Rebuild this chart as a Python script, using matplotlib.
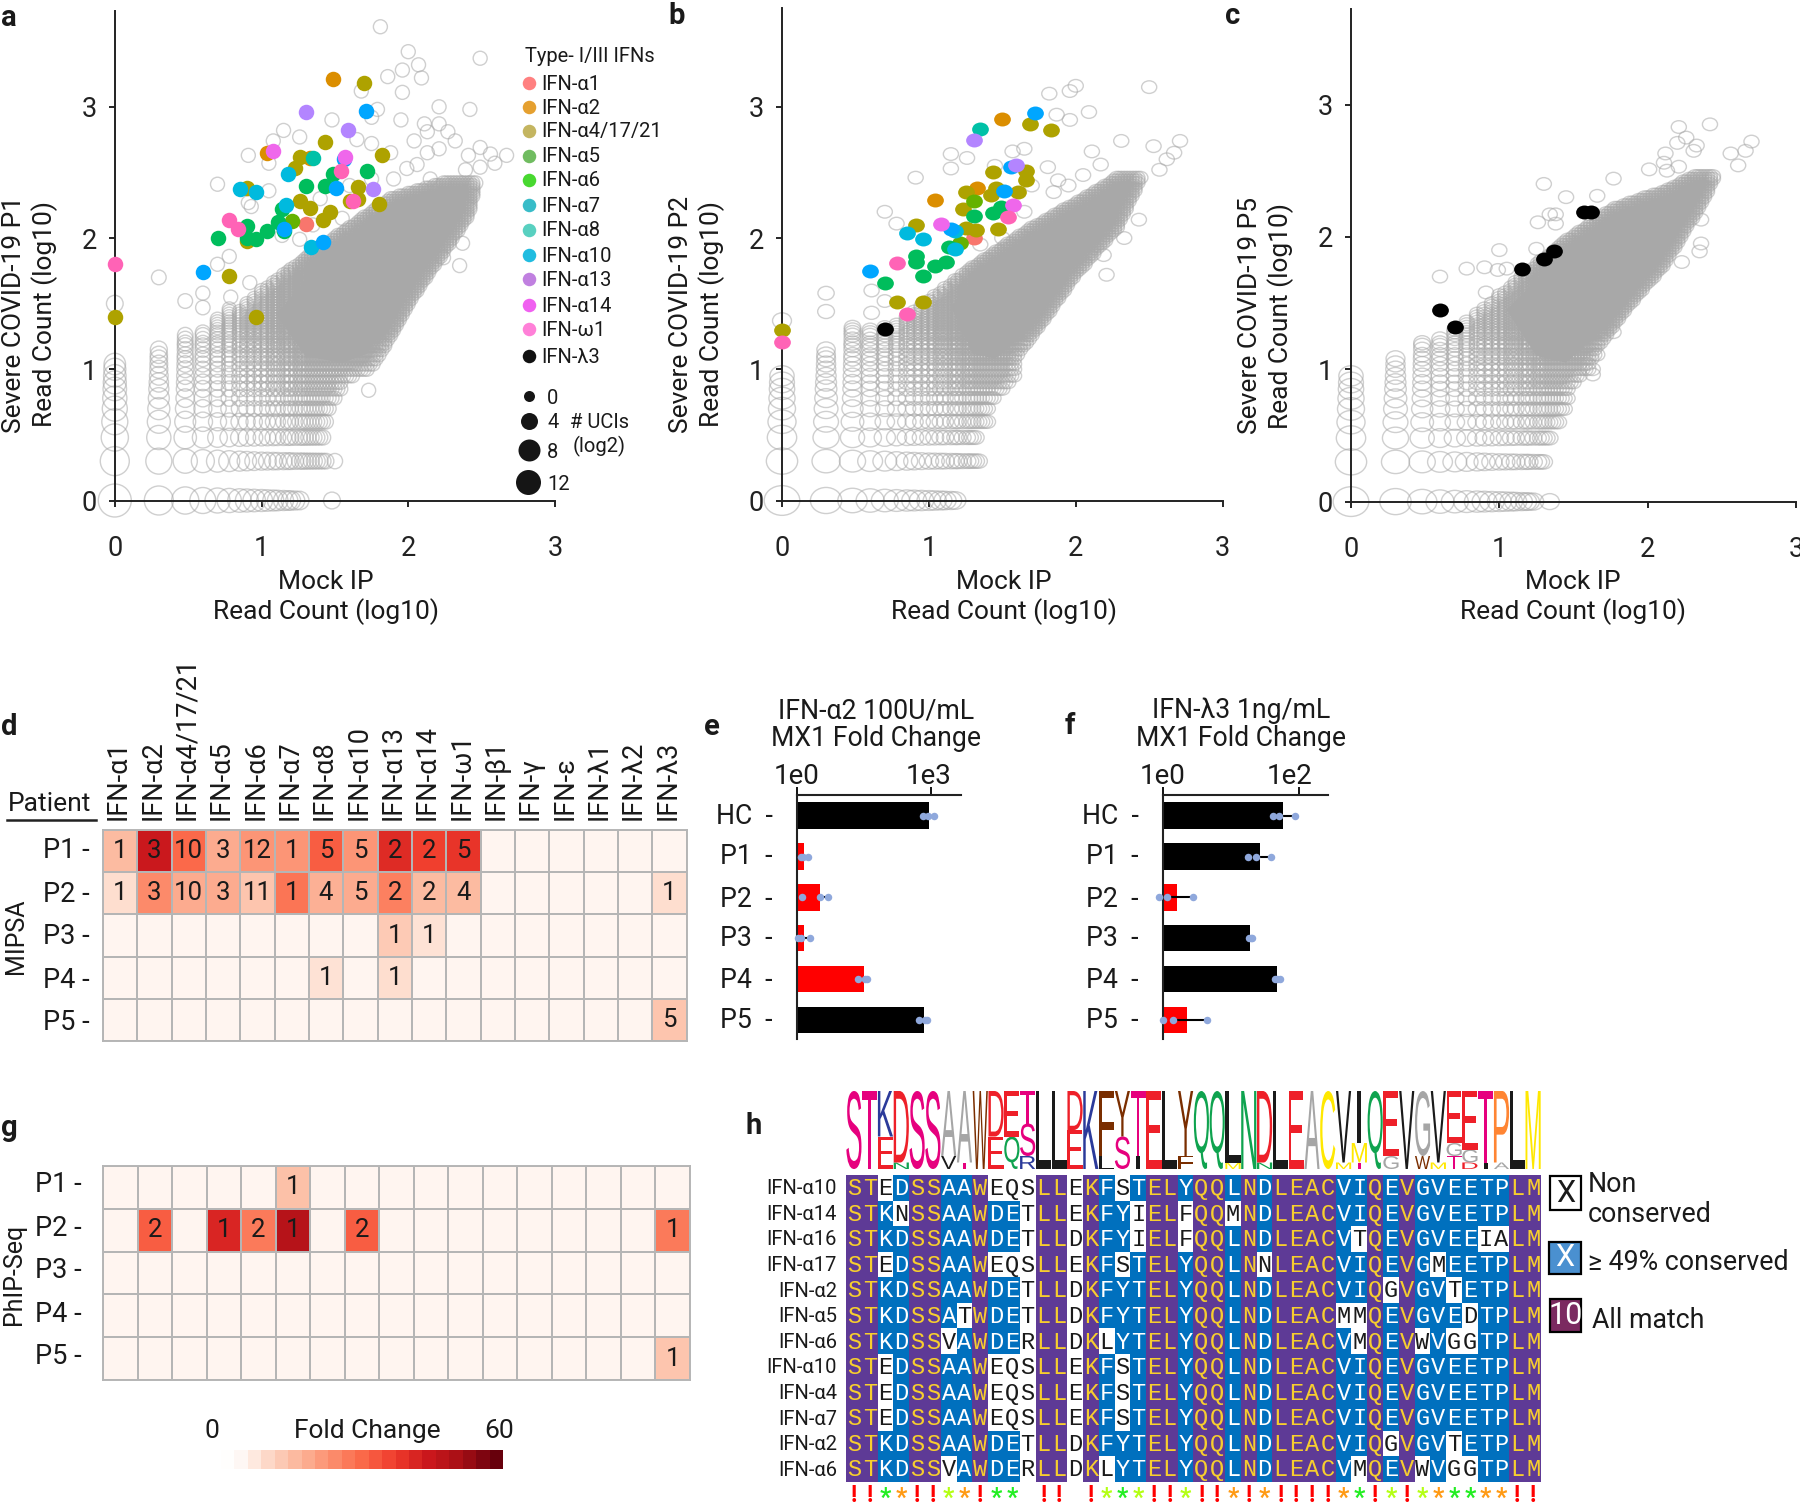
import numpy as np
import matplotlib
matplotlib.use('Agg')
import matplotlib.pyplot as plt
from collections import Counter
from matplotlib.colors import ListedColormap
from matplotlib.font_manager import FontProperties
from matplotlib.markers import MarkerStyle
from matplotlib.patches import PathPatch, Rectangle
from matplotlib.textpath import TextPath
from matplotlib.transforms import Affine2D

plt.rcParams['font.family'] = ['Roboto', 'DejaVu Sans']

W, H = 1800, 1502

# ---- panels a-c: values, log10 read counts ----
ifn_names = ['IFN-α1', 'IFN-α2', 'IFN-α4/17/21', 'IFN-α5', 'IFN-α6', 'IFN-α7',
             'IFN-α8', 'IFN-α10', 'IFN-α13', 'IFN-α14', 'IFN-ω1', 'IFN-λ3']
ifn_colors = ['#F8766D', '#DB8E00', '#AEA200', '#64B200', '#00BD5C', '#00C1A7',
              '#00BADE', '#00A6FF', '#B385FF', '#EF67EB', '#FF63B6', '#000000']
# the legend dots have paler tints than the points in the plot
legend_colors = ['#FF8080', '#E5A030', '#C4B560', '#70BC60', '#48D830', '#38BCC8',
                 '#58D0C0', '#20BCE0', '#C080E0', '#F060F0', '#FF80D8', '#111111']

a_hits = {
    'IFN-α2': [(1.49, 3.21), (1.04, 2.65), (1.33, 2.61)],
    'IFN-α4/17/21': [(1.70, 3.18), (1.43, 2.73), (1.82, 2.63), (1.26, 2.62), (1.23, 2.53), (.90, 2.38),
                     (1.66, 2.39), (1.26, 2.28), (1.33, 2.23), (1.60, 2.28), (1.66, 2.30), (1.80, 2.26),
                     (1.47, 2.20), (1.42, 2.14), (.90, 1.98), (.78, 1.71), (.96, 1.40), (0, 1.40)],
    'IFN-α5': [(1.21, 2.13)],
    'IFN-α6': [(1.72, 2.51), (1.49, 2.49), (1.30, 2.40), (1.43, 2.40), (1.14, 2.22), (1.11, 2.12),
               (1.04, 2.05), (.90, 2.09), (.90, 2.00), (.96, 1.99), (.70, 2.00), (1.15, 2.05)],
    'IFN-α7': [(1.35, 2.61)],
    'IFN-α8': [(1.18, 2.49), (.85, 2.37), (.96, 2.35), (1.17, 2.25), (1.34, 1.93)],
    'IFN-α10': [(1.71, 2.97), (1.56, 2.60), (1.51, 2.38), (1.15, 2.07), (1.42, 1.97), (.60, 1.74)],
    'IFN-α13': [(1.30, 2.96), (1.59, 2.82), (1.76, 2.37)],
    'IFN-α14': [(1.08, 2.66), (1.57, 2.62)],
    'IFN-ω1': [(1.54, 2.51), (.78, 2.14), (.84, 2.07), (1.62, 2.28), (0, 1.80)],
    'IFN-α1': [(1.30, 2.11)],
}
b_hits = {
    'IFN-α2': [(1.50, 2.91), (1.04, 2.29), (1.33, 2.38)],
    'IFN-α4/17/21': [(1.69, 2.87), (1.83, 2.82), (1.44, 2.50), (1.66, 2.51), (1.66, 2.44), (1.61, 2.35),
                     (1.46, 2.38), (1.42, 2.33), (1.25, 2.35), (1.23, 2.22), (1.47, 2.07), (1.25, 2.08),
                     (1.32, 2.06), (.91, 2.10), (.78, 1.51), (.96, 1.51), (0, 1.30)],
    'IFN-α5': [(1.31, 2.28), (1.21, 1.96)],
    'IFN-α6': [(1.31, 2.17), (1.44, 2.19), (1.49, 2.24), (1.14, 1.93), (.91, 1.86), (.91, 1.82),
               (1.12, 1.82), (1.04, 1.79), (.96, 1.71), (.70, 1.66)],
    'IFN-α7': [(1.35, 2.83)],
    'IFN-α8': [(.85, 2.04), (.96, 1.99), (1.18, 2.05), (1.18, 1.92)],
    'IFN-α10': [(1.72, 2.95), (1.56, 2.54), (1.51, 2.36), (1.15, 2.07), (.60, 1.75)],
    'IFN-α13': [(1.31, 2.75), (1.59, 2.56)],
    'IFN-α14': [(1.57, 2.25), (1.08, 2.11)],
    'IFN-ω1': [(1.54, 2.16), (.78, 1.81), (.85, 1.42), (0, 1.21)],
    'IFN-α1': [(1.31, 2.00)],
    'IFN-λ3': [(.70, 1.31)],
}
c_hits = {
    'IFN-λ3': [(.60, 1.45), (.70, 1.32), (1.15, 1.76), (1.30, 1.83), (1.37, 1.89), (1.57, 2.19), (1.62, 2.19)],
}

# grey circles that stand alone and can be read one by one
a_sparse = [(1.81, 3.61), (2.0, 3.42), (2.07, 3.32), (2.49, 3.37), (1.96, 3.28), (2.09, 3.22), (1.86, 3.23),
            (1.96, 3.11), (1.68, 3.12), (2.21, 3.0), (2.42, 2.98), (1.79, 2.98), (1.75, 2.92), (1.48, 2.9),
            (1.95, 2.9), (2.11, 2.87), (2.21, 2.87), (2.27, 2.81), (2.13, 2.81), (1.15, 2.82), (1.26, 2.77),
            (1.08, 2.74), (1.65, 2.75), (2.04, 2.74), (2.32, 2.74), (2.21, 2.68), (1.75, 2.72), (2.13, 2.65),
            (2.49, 2.69), (2.56, 2.64), (2.67, 2.63), (2.41, 2.63), (2.59, 2.57), (2.49, 2.54), (2.39, 2.52),
            (.91, 2.63), (1.05, 2.57), (1.88, 2.65), (2.06, 2.56), (1.99, 2.53), (.70, 2.41), (1.05, 2.36),
            (.91, 2.27), (.93, 2.24), (1.26, 1.99), (1.14, 2.02), (.78, 1.86), (.70, 1.8), (.30, 1.7),
            (.60, 1.58), (.48, 1.52), (.60, 1.47), (0, 1.5), (.79, 1.55), (.92, 1.66), (1.73, .84),
            (2.35, 1.79), (2.37, 1.96), (2.24, 1.85), (1.48, 0), (1.5, .3), (0, 1.04),
            (1.6, 2.4), (1.4, 2.3), (1.75, 2.45), (1.9, 2.45), (2.15, 2.45), (1.35, 2.1), (1.55, 2.15)]
b_sparse = [(2.0, 3.16), (1.96, 3.12), (1.82, 3.1), (2.5, 3.15), (2.09, 2.96), (1.87, 2.94), (1.96, 2.9),
            (2.31, 2.74), (2.53, 2.7), (2.71, 2.74), (2.67, 2.65), (2.11, 2.66), (1.65, 2.68), (1.57, 2.66),
            (1.15, 2.64), (1.26, 2.61), (1.15, 2.53), (.91, 2.46), (2.17, 2.56), (2.05, 2.48), (1.81, 2.54),
            (1.88, 2.44), (.70, 2.2), (.78, 2.11), (2.43, 2.14), (2.33, 2.0), (2.21, 1.72), (2.19, 1.87),
            (.30, 1.58), (.30, 1.44), (.61, 1.6), (.7, 1.52), (.61, 1.43), (0, 1.37), (2.57, 2.52), (2.62, 2.6),
            (1.7, 2.4), (1.85, 2.35), (1.5, 2.0), (1.65, 2.2), (1.35, 1.95), (1.95, 2.4), (1.45, 2.55)]
c_sparse = [(2.42, 2.85), (2.21, 2.83), (2.26, 2.75), (2.2, 2.71), (2.33, 2.69), (2.31, 2.65), (2.7, 2.72),
            (2.66, 2.65), (2.56, 2.63), (2.12, 2.63), (2.11, 2.56), (2.01, 2.51), (2.13, 2.5), (2.21, 2.53),
            (2.61, 2.54), (1.77, 2.44), (1.30, 2.4), (1.45, 2.3), (1.66, 2.31), (1.34, 2.17), (1.38, 2.17),
            (1.26, 2.11), (1.38, 2.1), (1.0, 1.9), (1.25, 1.91), (.78, 1.76), (.9, 1.77), (.99, 1.75),
            (1.05, 1.76), (.6, 1.7), (.91, 1.58), (2.36, 2.13), (2.36, 1.95), (2.35, 1.89), (2.23, 1.81),
            (1.63, .96), (1.63, 1.0), (1.66, 1.11), (1.77, 1.28), (1.34, 0), (1.34, .48)]

# The grey cloud holds far too many circles to read singly. It is rebuilt from
# the count levels visible in the picture (columns and rows of the lattice),
# limited by an outline read per panel, plus a solid core polygon.
count_levels = [0, .30, .48, .60, .70, .78, .85, .90, .95, 1.0, 1.04, 1.08, 1.11, 1.15, 1.18, 1.2, 1.23, 1.26,
                1.28, 1.3, 1.32, 1.34, 1.36, 1.38, 1.4, 1.42, 1.44, 1.46, 1.48, 1.5, 1.52, 1.54, 1.56, 1.58,
                1.6, 1.62, 1.64, 1.66, 1.68, 1.7, 1.72, 1.74, 1.76, 1.78, 1.8, 1.82, 1.84, 1.86, 1.88, 1.9,
                1.92, 1.94, 1.96, 1.98, 2.0, 2.02, 2.04, 2.06, 2.08, 2.1, 2.12, 2.14, 2.16, 2.18, 2.2, 2.22,
                2.24, 2.26, 2.28, 2.3, 2.32, 2.34, 2.36, 2.38, 2.4, 2.42, 2.44, 2.46]
a_top_x = [0, .3, .48, .6, .7, .78, .85, .9, 1.0, 1.35, 1.88, 2.27, 2.46]
a_top_y = [1.03, 1.17, 1.27, 1.28, 1.39, 1.46, 1.45, 1.5, 1.6, 1.89, 2.3, 2.43, 2.42]
a_right_y = [0, .3, .48, .6, .7, .78, .85, .9, 1.02, 1.55, 1.89, 2.17, 2.42]
a_right_x = [1.27, 1.45, 1.43, 1.45, 1.47, 1.5, 1.55, 1.55, 1.76, 2.03, 2.24, 2.41, 2.46]
b_top_x = [0, .3, .48, .6, .7, .78, .9, 1.02, 1.36, 1.7, 2.09, 2.41, 2.47]
b_top_y = [.99, 1.15, 1.33, 1.3, 1.32, 1.35, 1.45, 1.55, 1.83, 2.08, 2.33, 2.55, 2.55]
b_right_y = [0, .3, .48, .6, .7, .85, .95, 1.09, 1.71, 2.08, 2.52]
b_right_x = [1.18, 1.35, 1.32, 1.4, 1.4, 1.5, 1.58, 1.6, 1.99, 2.28, 2.47]
c_top_x = [0, .3, .48, .6, .7, .78, 1.02, 1.42, 1.77, 2.11, 2.44]
c_top_y = [.98, 1.1, 1.22, 1.25, 1.3, 1.36, 1.58, 1.95, 2.22, 2.35, 2.53]
c_right_y = [0, .3, .48, .6, .7, .85, 1.0, 1.18, 1.48, 1.79, 2.25, 2.47]
c_right_x = [1.25, 1.3, 1.33, 1.4, 1.45, 1.47, 1.6, 1.67, 1.87, 2.11, 2.36, 2.46]
a_core = [(1.1, 1.42), (1.4, 1.8), (1.88, 2.2), (2.27, 2.36), (2.4, 2.36), (2.2, 1.95), (2.0, 1.6),
          (1.72, 1.12), (1.55, 1.05), (1.3, 1.1)]
b_core = [(1.15, 1.48), (1.36, 1.72), (1.7, 2.0), (2.09, 2.24), (2.38, 2.46), (2.25, 2.12), (1.95, 1.75),
          (1.58, 1.2), (1.45, 1.08), (1.3, 1.12)]
c_core = [(1.05, 1.45), (1.42, 1.86), (1.77, 2.13), (2.11, 2.27), (2.4, 2.45), (2.32, 2.28), (2.08, 1.85),
          (1.83, 1.52), (1.62, 1.22), (1.45, 1.05), (1.25, 1.1)]
# circle diameter (px) against x + y, read at a few places
size_at_sum = [0, .3, .6, 1.0, 1.3, 1.6, 2.2, 6.0]
size_px = [33, 29, 26, 22, 18, 16, 14, 14]

# ---- panels d, g ----
cytokines = ['IFN-α1', 'IFN-α2', 'IFN-α4/17/21', 'IFN-α5', 'IFN-α6', 'IFN-α7', 'IFN-α8', 'IFN-α10', 'IFN-α13',
             'IFN-α14', 'IFN-ω1', 'IFN-β1', 'IFN-γ', 'IFN-ε', 'IFN-λ1', 'IFN-λ2', 'IFN-λ3']
patients = ['P1', 'P2', 'P3', 'P4', 'P5']
mipsa_fold = [[15, 45, 30, 18, 22, 22, 32, 22, 41, 37, 39, 0, 0, 0, 0, 0, 0],
              [8, 24, 18, 18, 13, 28, 17, 18, 26, 15, 15, 0, 0, 0, 0, 0, 8],
              [0, 0, 0, 0, 0, 0, 0, 0, 12, 7, 0, 0, 0, 0, 0, 0, 0],
              [0, 0, 0, 0, 0, 0, 7, 0, 8, 0, 0, 0, 0, 0, 0, 0, 0],
              [0, 0, 0, 0, 0, 0, 0, 0, 0, 0, 0, 0, 0, 0, 0, 0, 13]]
mipsa_ucis = [[1, 3, 10, 3, 12, 1, 5, 5, 2, 2, 5, 0, 0, 0, 0, 0, 0],
              [1, 3, 10, 3, 11, 1, 4, 5, 2, 2, 4, 0, 0, 0, 0, 0, 1],
              [0, 0, 0, 0, 0, 0, 0, 0, 1, 1, 0, 0, 0, 0, 0, 0, 0],
              [0, 0, 0, 0, 0, 0, 1, 0, 1, 0, 0, 0, 0, 0, 0, 0, 0],
              [0, 0, 0, 0, 0, 0, 0, 0, 0, 0, 0, 0, 0, 0, 0, 0, 5]]
phip_fold = [[0, 0, 0, 0, 0, 14, 0, 0, 0, 0, 0, 0, 0, 0, 0, 0, 0],
             [0, 32, 0, 42, 27, 49, 0, 32, 0, 0, 0, 0, 0, 0, 0, 0, 27],
             [0] * 17,
             [0] * 17,
             [0, 0, 0, 0, 0, 0, 0, 0, 0, 0, 0, 0, 0, 0, 0, 0, 13]]
phip_ucis = [[0, 0, 0, 0, 0, 1, 0, 0, 0, 0, 0, 0, 0, 0, 0, 0, 0],
             [0, 2, 0, 1, 2, 1, 0, 2, 0, 0, 0, 0, 0, 0, 0, 0, 1],
             [0] * 17,
             [0] * 17,
             [0, 0, 0, 0, 0, 0, 0, 0, 0, 0, 0, 0, 0, 0, 0, 0, 1]]

# ---- panels e, f ----
donors = ['HC', 'P1', 'P2', 'P3', 'P4', 'P5']
e_fold = [912, 1.45, 3.2, 1.42, 31, 690]
e_reps = [[660, 850, 1150], [1.2, 1.38, 1.74], [1.29, 3.2, 5], [1.07, 1.2, 2], [23, 33, 37], [550, 740, 790]]
e_colors = ['black', 'red', 'red', 'red', 'red', 'black']
f_fold = [60, 27, 1.6, 19.5, 49, 2.3]
f_reps = [[41.6, 51, 89], [17.8, 24, 40], [.89, 1.15, 2.8], [18.5, 20, 21], [44.7, 49, 53], [1, 1.4, 4.5]]
f_colors = ['black', 'black', 'red', 'black', 'black', 'red']

# ---- panel h ----
seq_names = ['IFN-α10', 'IFN-α14', 'IFN-α16', 'IFN-α17', 'IFN-α2', 'IFN-α5', 'IFN-α6',
             'IFN-α10', 'IFN-α4', 'IFN-α7', 'IFN-α2', 'IFN-α6']
sequences = ['STEDSSAAWEQSLLEKFSTELYQQLNDLEACVIQEVGVEETPLM',
             'STKNSSAAWDETLLEKFYIELFQQMNDLEACVIQEVGVEETPLM',
             'STKDSSAAWDETLLDKFYIELFQQLNDLEACVTQEVGVEEIALM',
             'STEDSSAAWEQSLLEKFSTELYQQLNNLEACVIQEVGMEETPLM',
             'STKDSSAAWDETLLDKFYTELYQQLNDLEACVIQGVGVTETPLM',
             'STKDSSATWDETLLDKFYTELYQQLNDLEACMMQEVGVEDTPLM',
             'STKDSSVAWDERLLDKLYTELYQQLNDLEACVMQEVWVGGTPLM',
             'STEDSSAAWEQSLLEKFSTELYQQLNDLEACVIQEVGVEETPLM',
             'STEDSSAAWEQSLLEKFSTELYQQLNDLEACVIQEVGVEETPLM',
             'STEDSSAAWEQSLLEKFSTELYQQLNDLEACVIQEVGVEETPLM',
             'STKDSSAAWDETLLDKFYTELYQQLNDLEACVIQGVGVTETPLM',
             'STKDSSVAWDERLLDKLYTELYQQLNDLEACVMQEVWVGGTPLM']
column_marks = '!!go!!yo!gg_!!_!yg' + 'y!!y!!o!o!!!!og!y!yoggoo!!'
logo_colors = {'S': '#E6007E', 'T': '#E6007E', 'K': '#2B3A9A', 'R': '#2B3A9A', 'E': '#EE2029', 'D': '#EE2029',
               'N': '#0FA34F', 'Q': '#0FA34F', 'A': '#A6A6A6', 'G': '#A6A6A6', 'V': '#1A1A1A', 'L': '#1A1A1A',
               'I': '#1A1A1A', 'W': '#7A2E00', 'F': '#7A2E00', 'Y': '#7A2E00', 'C': '#FFE800', 'M': '#FFE800',
               'P': '#FF8533'}
mark_colors = {'!': '#FF0000', 'g': '#22EE22', 'y': '#B4FF14', 'o': '#FF9A14'}

fig = plt.figure(figsize=(W / 100, H / 100), dpi=100)


def px_axes(left, top, right, bottom):
    return fig.add_axes([left / W, 1 - bottom / H, (right - left) / W, (bottom - top) / H])


def put(x, y, s, size=17, ha='center', va='center', **kw):
    if kw.get('rotation') == 90:
        x += 3
    else:
        y += 2
    fig.text(x / W, 1 - y / H, s, fontsize=size, ha=ha, va=va, color=kw.pop('color', '#1a1a1a'), **kw)


def px2(d):
    return (d * 0.72) ** 2


def scatter_panel(box, ytop, hits, sparse, levels, top, right, core, stretch, xlab, ylab):
    x0, x3, y0, y3 = box
    step = (y0 - y3) / 3
    ax = px_axes(x0, y0 - ytop * step, x3, y0)
    ax.set_xlim(0, 3)
    ax.set_ylim(0, ytop)
    ax.patch.set_alpha(0)
    ring = MarkerStyle('o', transform=Affine2D().scale(*stretch))

    xs, ys = [], []
    for lx in levels:
        for ly in levels:
            if ly <= np.interp(lx, top[0], top[1]) and lx <= np.interp(ly, right[0], right[1]):
                xs.append(lx)
                ys.append(ly)
    xs = np.array(xs + [p[0] for p in sparse])
    ys = np.array(ys + [p[1] for p in sparse])
    diam = np.interp(xs + ys, size_at_sum, size_px)
    ax.fill(*zip(*core), color='#a9a9a9', lw=0, zorder=1)
    order = np.argsort(diam)[::-1]
    ax.scatter(xs[order], ys[order], s=px2(diam[order]), marker=ring, facecolors='none',
               edgecolors=(.66, .66, .66, .55), linewidths=1.0, clip_on=False, zorder=2)

    for name, col in zip(ifn_names, ifn_colors):
        if name in hits:
            hx, hy = zip(*hits[name])
            ax.scatter(hx, hy, s=px2(15.5), marker=ring, color=col, lw=0, clip_on=False, zorder=4)

    for side in ['top', 'right']:
        ax.spines[side].set_visible(False)
    for side in ['left', 'bottom']:
        ax.spines[side].set_linewidth(1.4)
        ax.spines[side].set_color('#222222')
        ax.spines[side].set_zorder(3)
    ax.set_xticks([0, 1, 2, 3])
    ax.set_yticks([0, 1, 2, 3])
    ax.tick_params(axis='x', length=4, width=1.2, pad=21, labelsize=19.5, labelcolor='#222222')
    ax.tick_params(axis='y', length=4, width=1.2, pad=9, labelsize=19.5, labelcolor='#222222')
    put(xlab, 580, 'Mock IP', 19)
    put(xlab, 610, 'Read Count (log10)', 19)
    put(ylab[0], ylab[2], ylab[3], 19, rotation=90)
    put(ylab[1], ylab[2], 'Read Count (log10)', 19, rotation=90)
    return ax


scatter_panel((114.8, 555, 500.5, 106.8), 3.73, a_hits, a_sparse, count_levels, (a_top_x, a_top_y),
              (a_right_y, a_right_x), a_core, (1, 1), 326, (11, 42, 314, 'Severe COVID-19 P1'))
scatter_panel((782, 1222.6, 500.5, 106.8), 3.75, b_hits, b_sparse, count_levels, (b_top_x, b_top_y),
              (b_right_y, b_right_x), b_core, (1.08, .9), 1004, (678, 709, 314, 'Severe COVID-19 P2'))
scatter_panel((1351, 1796, 501.6, 104.5), 3.72, c_hits, c_sparse, count_levels, (c_top_x, c_top_y),
              (c_right_y, c_right_x), c_core, (1.08, .9), 1573, (1247, 1278, 316, 'Severe COVID-19 P5'))

# legend of panel a, drawn on a pixel overlay
overlay = fig.add_axes([0, 0, 1, 1])
overlay.set_xlim(0, W)
overlay.set_ylim(H, 0)
overlay.axis('off')
overlay.patch.set_alpha(0)
put(525, 55, 'Type- I/III IFNs', 14.5, ha='left')
legend_y = [83, 107, 131, 156, 180, 205, 230, 255, 279, 305, 329, 356]
for y, name, col in zip(legend_y, ifn_names, legend_colors):
    overlay.scatter([529], [y], s=px2(13.5), color=col, lw=0)
    put(541, y - 1, name, 14.5, ha='left')
for y, x, lab, d, tx in [(396, 529, '0', 11, 553), (421, 529, '4', 17, 553), (450, 529, '8', 22, 553),
                         (482, 527.5, '12', 25, 559)]:
    overlay.scatter([x], [y], s=px2(d), color='#151515', lw=0)
    put(tx, y, lab, 14.5)
put(599, 421, '# UCIs', 14.5)
put(599, 444, '(log2)', 14.5)


def heatmap(box, fold, ucis):
    ax = px_axes(*box)
    ax.pcolormesh(fold, cmap='Reds', vmin=0, vmax=60, edgecolors='#b5b5b5', linewidth=1.2)
    ax.set_ylim(5, 0)
    ax.set_xlim(0, 17)
    ax.set_xticks([])
    ax.set_yticks([])
    for s in ax.spines.values():
        s.set_color('#b5b5b5')
        s.set_linewidth(1.4)
    for r, row in enumerate(ucis):
        for c, v in enumerate(row):
            if v:
                ax.text(c + .5, r + .5, str(v), ha='center', va='center', fontsize=18.5, color='#1a1a1a')
    return ax


heatmap((103, 830, 686.5, 1041), mipsa_fold, mipsa_ucis)
heatmap((103, 1166, 690, 1380), phip_fold, phip_ucis)
cell = (686.5 - 103) / 17
for i, name in enumerate(cytokines):
    put(103 + (i + .45) * cell - 3, 820, name, 19.5, va='bottom', rotation=90)
put(50, 802, 'Patient', 19)
overlay.plot([7, 96], [820, 820], color='#222222', lw=1.8)
for y, p in zip([848, 892, 934, 977, 1019], patients):
    put(90, y + 1, p + ' -', 19.5, ha='right')
for y, p in zip([1182, 1225, 1267, 1311, 1353], patients):
    put(82, y + 1, p + ' -', 19.5, ha='right')
put(13, 936, 'MIPSA', 18, rotation=90)
put(11, 1274, 'PhIP-Seq', 18, rotation=90)

# colour scale under panel g
cbar = px_axes(221, 1450, 502, 1469)
steps = np.linspace(0, 1, 21)
cbar.imshow(steps[None, :], cmap='Reds', aspect='auto', vmin=0, vmax=1, alpha=np.clip(steps * 8, .1, 1)[None, :])
cbar.axis('off')
put(212, 1429, '0', 19)
put(367, 1429, 'Fold Change', 19)
put(499, 1429, '60', 19)


def bar_panel(left, right, per_decade, fold, reps, colors, tick, ticklab, tick_x, title, title_x, lab_right):
    ax = px_axes(left, 794.5, right, 1039)
    ax.set_xscale('log')
    ax.set_xlim(1, 10 ** ((right - left) / per_decade))
    ypos = np.arange(6)
    ax.barh(ypos, np.array(fold) - 1, left=1, height=.65, color=colors, zorder=1)
    ax.set_ylim(5.47, -.52)
    for y, vals in zip(ypos, reps):
        ax.plot([np.median(vals), max(vals)], [y, y], color='black', lw=1.5, zorder=2, solid_capstyle='butt')
        ax.scatter(vals, [y] * 3, s=px2(7.5), color='#8FA8DC', lw=0, zorder=3, clip_on=False)
    ax.xaxis.tick_top()
    ax.set_xticks([1, tick])
    ax.set_xticklabels([])
    ax.minorticks_off()
    ax.set_yticks([])
    ax.tick_params(axis='x', length=6, width=1.3)
    for side in ['right', 'bottom']:
        ax.spines[side].set_visible(False)
    for side in ['left', 'top']:
        ax.spines[side].set_linewidth(1.5)
        ax.spines[side].set_color('#222222')
    put(left, 774, '1e0', 20)
    put(tick_x, 774, ticklab, 20)
    put(title_x, 709, title, 19.2)
    put(title_x, 737, 'MX1 Fold Change', 19.2)
    for y, d in zip([814, 855, 897, 937, 978, 1019], donors):
        put(lab_right, y, d + '  -', 19.2, ha='right')


bar_panel(797, 961, 44.7, e_fold, e_reps, e_colors, 1000, '1e3', 929, 'IFN-α2 100U/mL', 876, 773)
bar_panel(1162.7, 1328, 67.9, f_fold, f_reps, f_colors, 100, '1e2', 1290, 'IFN-λ3 1ng/mL', 1241, 1139)

# alignment: a column is purple if all sequences agree, a residue is blue if it
# holds the majority of its column, everything else stays white
n_col = len(sequences[0])
n_row = len(sequences)
columns = [[s[c] for s in sequences] for c in range(n_col)]
states = np.zeros((n_row, n_col), dtype=int)
for c, col in enumerate(columns):
    counts = Counter(col)
    for r, letter in enumerate(col):
        if counts[letter] == n_row:
            states[r, c] = 2
        elif counts[letter] > n_row / 2:
            states[r, c] = 1
msa = px_axes(846, 1175, 1541, 1482)
msa.imshow(states, cmap=ListedColormap(['white', '#0070BE', '#5E3A96']), vmin=0, vmax=2, aspect='auto',
           interpolation='nearest')
msa.axis('off')
letter_colors = ['#1a1a1a', 'white', '#F7CE2E']
for r in range(n_row):
    for c in range(n_col):
        msa.text(c, r + .03, sequences[r][c], ha='center', va='center', fontsize=17, family='Liberation Mono',
                 color=letter_colors[states[r, c]])
    put(837, 1175 + (r + .5) * 307 / n_row - 1, seq_names[r], 14.5, ha='right')

# sequence logo above the alignment, letter heights from the residue counts
logo = px_axes(846, 1091, 1541, 1169)
logo.set_xlim(0, n_col)
logo.set_ylim(0, 1)
logo.axis('off')
logo_font = FontProperties(family='Liberation Sans')
for c, col in enumerate(columns):
    counts = sorted(Counter(col).items(), key=lambda kv: kv[1])
    base = 0
    for letter, n in counts:
        tp = TextPath((0, 0), letter, size=1, prop=logo_font)
        bb = tp.get_extents()
        frac = n / n_row
        wide = .25 if letter == 'I' else .96
        tf = Affine2D().translate(-bb.x0, -bb.y0).scale(wide / bb.width, frac / bb.height)
        tf = tf.translate(c + (1 - wide) / 2, base)
        logo.add_patch(PathPatch(tp, transform=tf + logo.transData, color=logo_colors[letter], lw=0))
        base += frac

# conservation marks below the alignment
for c, m in enumerate(column_marks):
    if m == '_':
        continue
    mx = 846 + (c + .5) * 695 / n_col
    if m == '!':
        put(mx, 1494, '!', 17, color=mark_colors[m], fontweight='bold')
    else:
        put(mx, 1497, '*', 18, color=mark_colors[m], fontweight='bold')

# key of panel h
overlay.add_patch(Rectangle((1550, 1176), 31, 34, fc='white', ec='black', lw=1.6))
put(1565.5, 1191, 'X', 22)
put(1588, 1182, 'Non', 19.3, ha='left')
put(1588, 1213, 'conserved', 19.3, ha='left')
overlay.add_patch(Rectangle((1549, 1242), 32, 32, fc='#4A90D0', ec='black', lw=1.6))
put(1565, 1256, 'X', 22, color='white')
put(1588, 1260, '≥ 49% conserved', 19.3, ha='left')
overlay.add_patch(Rectangle((1550, 1299), 31, 33, fc='#7B2A60', ec='black', lw=1.6))
put(1565.5, 1314, '10', 22, color='white')
put(1592, 1319, 'All match', 19.3, ha='left')

for x, y, s in [(9, 16, 'a'), (677, 14, 'b'), (1233, 14, 'c'), (9, 725, 'd'), (712, 725, 'e'), (1070, 724, 'f'),
                (9, 1126, 'g'), (754, 1124, 'h')]:
    put(x, y, s, 21, fontweight='bold')

fig.savefig('out.png', dpi=100)
